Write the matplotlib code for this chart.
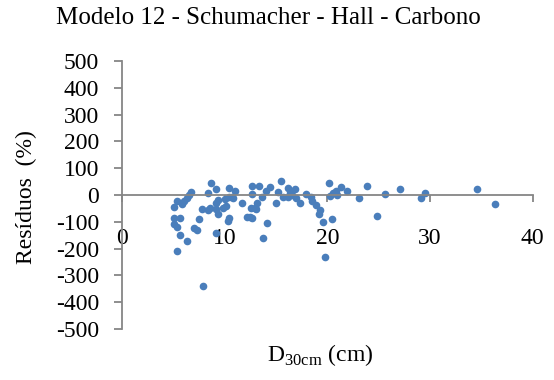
import matplotlib
matplotlib.use('Agg')
import matplotlib.pyplot as plt

plt.rcParams['font.family'] = 'Liberation Serif'
plt.rcParams['mathtext.fontset'] = 'custom'
plt.rcParams['mathtext.rm'] = 'Liberation Serif'
plt.rcParams['axes.unicode_minus'] = False

# -------------------- data ------------------------

diam = [8.65, 9.1, 10.4, 11.0, 6.7, 6.5, 8.3, 5.3, 6.0, 6.3,
        5.0, 5.8, 9.3, 9.1, 10.0, 10.4, 10.8, 7.8, 8.3, 8.5,
        9.1, 9.3, 9.8, 10.1, 5.0, 5.6, 5.0, 5.3, 7.5, 7.0,
        7.25, 10.3, 10.4, 9.1, 5.6, 6.3, 5.3, 7.9,
        10.7, 11.7, 12.65, 13.3, 12.65, 12.55, 12.9, 13.1, 13.0, 12.1,
        12.45, 12.65, 13.6, 14.0, 14.4, 14.1, 13.75, 15.5, 15.15, 15.0,
        15.7, 16.1, 16.3, 16.1, 16.8, 16.5, 16.95, 17.3, 17.9, 18.4,
        18.5, 18.9, 19.3, 19.2, 19.6, 20.1, 20.2, 20.45, 19.8, 20.5,
        20.8, 20.9, 21.3, 21.9, 23.1, 23.9, 24.85,
        25.65, 27.1, 29.1, 29.5, 34.6, 36.3]
residuos = [44, 21, 25, 16, 12, 0, 9, -21, -21, -12,
            -46, -34, -19, -29, -16, -6, -12, -54, -56, -50,
            -54, -71, -50, -41, -87, -85, -109, -121, -91, -125,
            -131, -97, -87, -141, -150, -171, -210, -340,
            -9, -29, 34, 34, 2, -50, -50, -31, -52, -81,
            -81, -87, -9, 16, 29, -104, -162, 54, 12, -29,
            -6, 25, 9, -9, 21, 0, -12, -29, 4, -9,
            -21, -37, -56, -71, -100, 46, -4, -91, -233, 9,
            16, 0, 29, 16, -12, 34, -77,
            2, 22, -12, 6, 22, -33]

fig = plt.figure(figsize=(5.54, 3.8), dpi=100)
ax = fig.add_axes([0.2211, 0.1342, 0.7401, 0.7053])

ax.plot(diam, residuos, 'o', color='#4A7EBB', ms=5.5, mec='none')

ax.set_xlim(0, 40)
ax.set_ylim(-500, 500)
ax.set_xticks([0, 10, 20, 30, 40])
ax.set_yticks(range(-500, 501, 100))

axis_color = '#868686'
ax.spines['top'].set_visible(False)
ax.spines['right'].set_visible(False)
ax.spines['bottom'].set_position(('data', 0))
for s in ['left', 'bottom']:
    ax.spines[s].set_color(axis_color)
    ax.spines[s].set_linewidth(1.3)
ax.tick_params(axis='y', direction='out', length=6, width=1.3, color=axis_color,
               labelsize=17, pad=11)
ax.tick_params(axis='x', direction='out', length=5, width=1.3, color=axis_color,
               labelsize=17, pad=19)

fig.text(0.484, 0.952, 'Modelo 12 - Schumacher - Hall - Carbono', fontsize=18,
         ha='center', va='center')
fig.text(0.047, 0.482, 'Resíduos  (%)', fontsize=17, rotation=90,
         ha='center', va='center')
fig.text(0.578, 0.065, r'D$_\mathrm{30cm}$ (cm)', fontsize=17, ha='center', va='center')

fig.savefig('out.png', dpi=100)
